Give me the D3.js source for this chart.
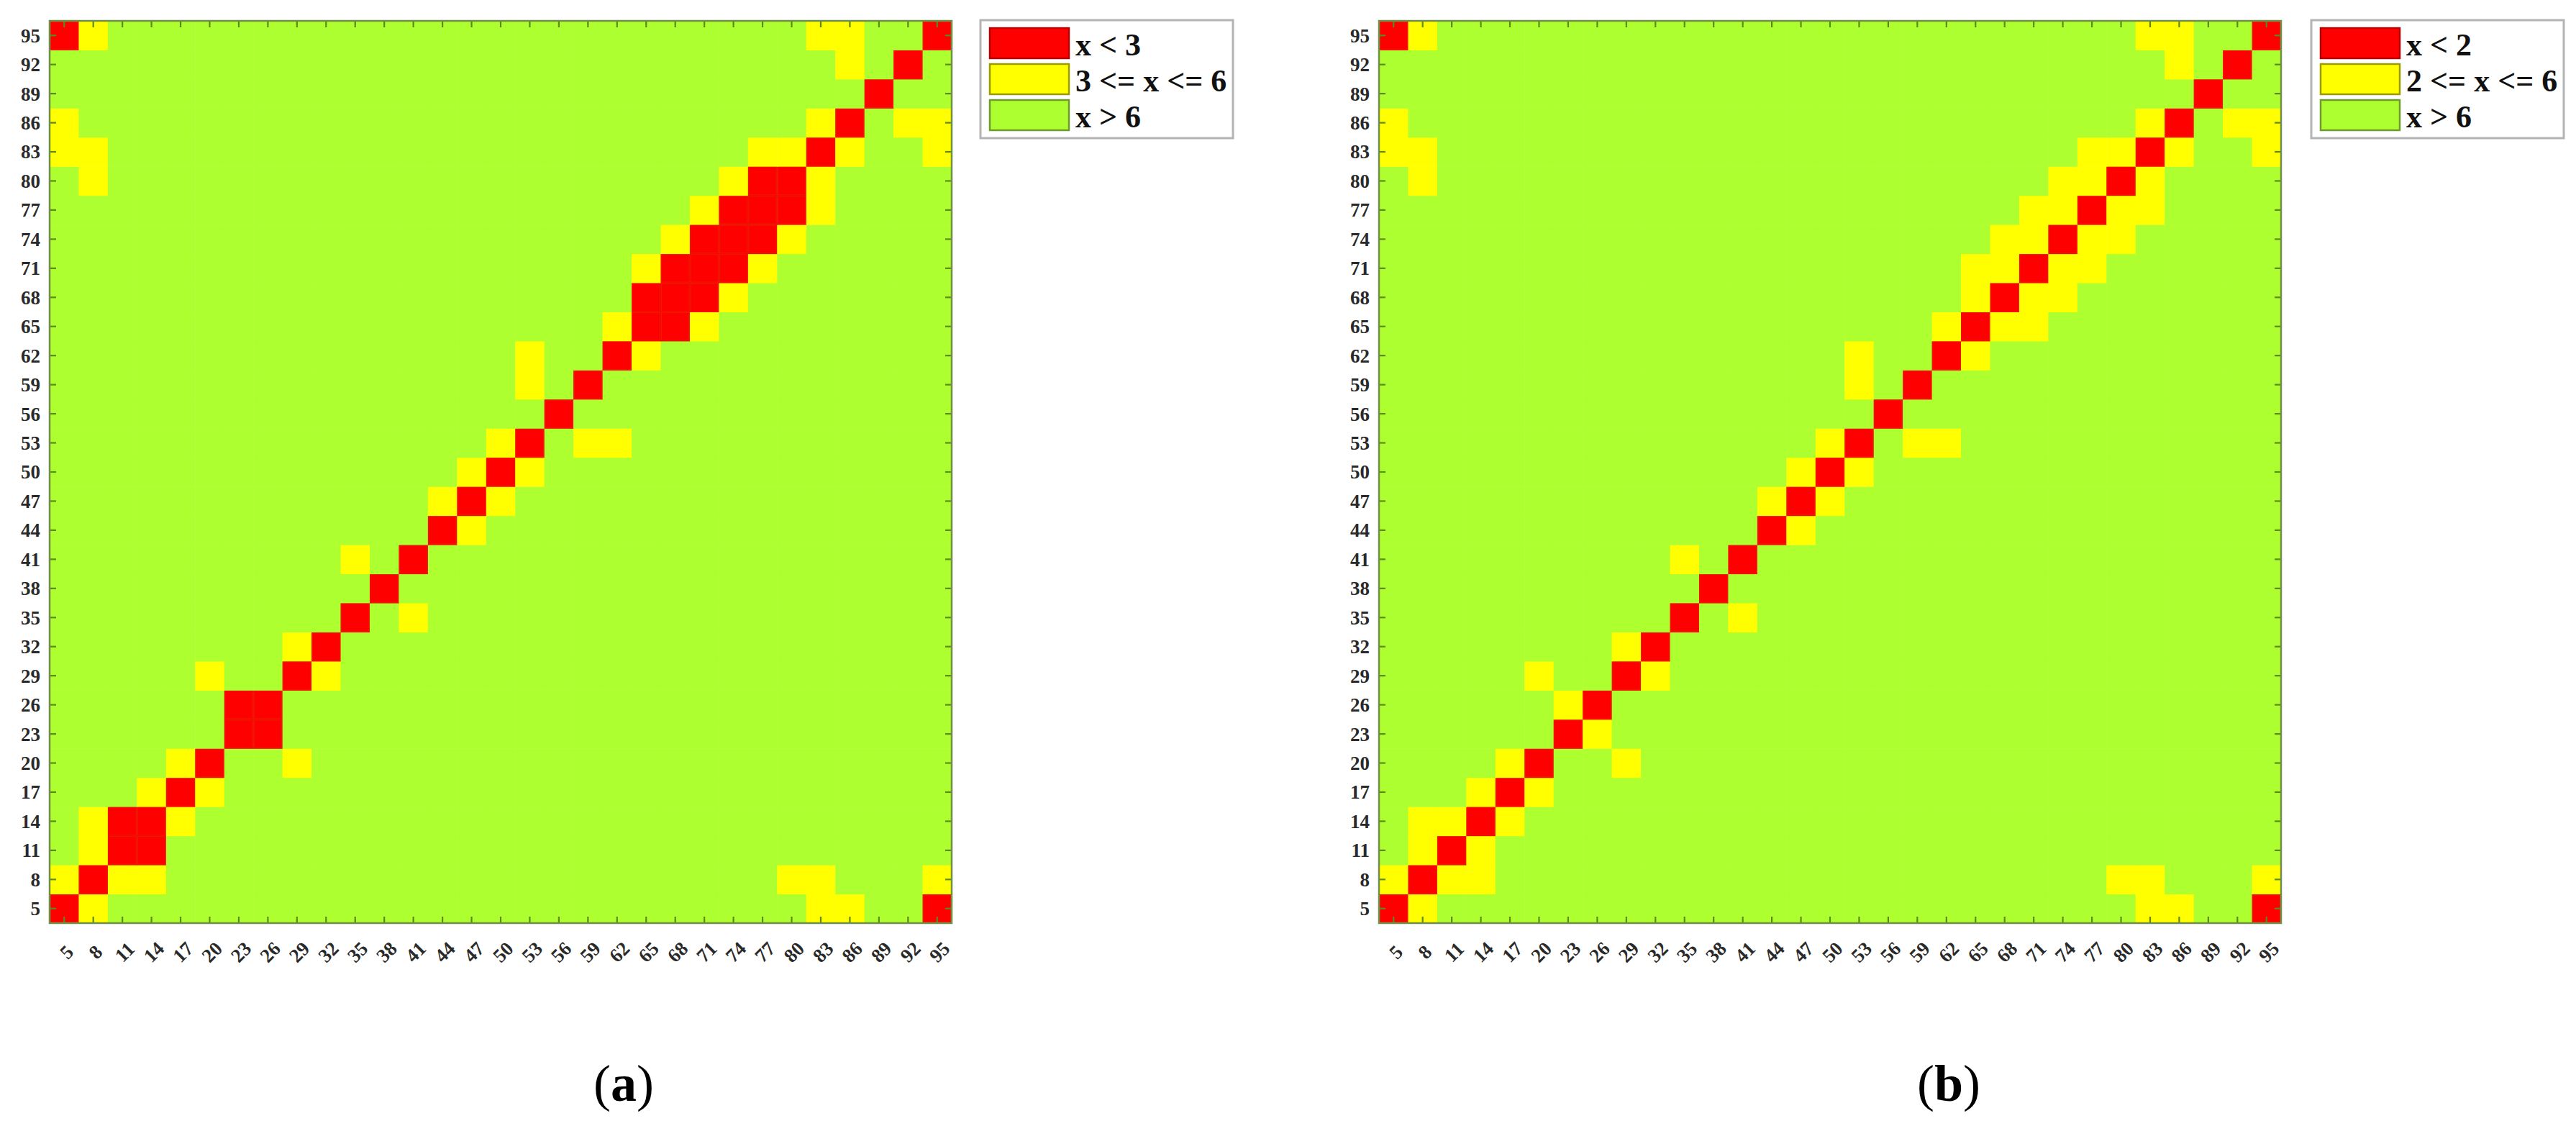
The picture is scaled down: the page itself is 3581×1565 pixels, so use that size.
<!DOCTYPE html>
<html><head><meta charset="utf-8">
<script src="https://cdn.jsdelivr.net/npm/d3@7"></script>
<style>body{margin:0;background:#fff} svg{display:block}</style>
</head><body>
<svg id="chart" width="3581" height="1565"></svg>
<script>
// ---- data ----
const categories = [5,8,11,14,17,20,23,26,29,32,35,38,41,44,47,50,53,56,59,62,65,68,71,74,77,80,83,86,89,92,95];
const tickLabels = ["5","8","11","14","17","20","23","26","29","32","35","38","41","44","47","50","53","56","59","62","65","68","71","74","77","80","83","86","89","92","95"];
const classLabelsA = ["x < 3", "3 <= x <= 6", "x > 6"];
const classLabelsB = ["x < 2", "2 <= x <= 6", "x > 6"];
const classColors = ["#ff0000", "#ffff00", "#adff2f"];
const classStrokes = ["#b80000", "#9c9c00", "#6f9a2c"];
const captionLetters = ["a", "b"];

// rows: [y value, x values in class "red" (lowest band)]
const redA = [[5,[5,95]],[8,[8]],[11,[11,14]],[14,[11,14]],[17,[17]],[20,[20]],[23,[23,26]],[26,[23,26]],
  [29,[29]],[32,[32]],[35,[35]],[38,[38]],[41,[41]],[44,[44]],[47,[47]],[50,[50]],[53,[53]],[56,[56]],
  [59,[59]],[62,[62]],[65,[65,68]],[68,[65,68,71]],[71,[68,71,74]],[74,[71,74,77]],[77,[74,77,80]],
  [80,[77,80]],[83,[83]],[86,[86]],[89,[89]],[92,[92]],[95,[5,95]]];
// rows: [y value, x values in class "yellow" (middle band)]
const yellowA = [[5,[8,83,86]],[8,[5,11,14,80,83,95]],[11,[8]],[14,[8,17]],[17,[14,20]],[20,[17,29]],
  [29,[20,32]],[32,[29]],[35,[41]],[41,[35]],[44,[47]],[47,[44,50]],[50,[47,53]],[53,[50,59,62]],
  [59,[53]],[62,[53,65]],[65,[62,71]],[68,[74]],[71,[65,77]],[74,[68,80]],[77,[71,83]],[80,[8,74,83]],
  [83,[5,8,77,80,86,95]],[86,[5,83,92,95]],[92,[86]],[95,[8,83,86]]];

const redB = [[5,[5,95]],[8,[8]],[11,[11]],[14,[14]],[17,[17]],[20,[20]],[23,[23]],[26,[26]],
  [29,[29]],[32,[32]],[35,[35]],[38,[38]],[41,[41]],[44,[44]],[47,[47]],[50,[50]],[53,[53]],[56,[56]],
  [59,[59]],[62,[62]],[65,[65]],[68,[68]],[71,[71]],[74,[74]],[77,[77]],[80,[80]],[83,[83]],[86,[86]],
  [89,[89]],[92,[92]],[95,[5,95]]];
const yellowB = [[5,[8,83,86]],[8,[5,11,14,80,83,95]],[11,[8,14]],[14,[8,11,17]],[17,[14,20]],[20,[17,29]],
  [23,[26]],[26,[23]],[29,[20,32]],[32,[29]],[35,[41]],[41,[35]],[44,[47]],[47,[44,50]],[50,[47,53]],
  [53,[50,59,62]],[59,[53]],[62,[53,65]],[65,[62,68,71]],[68,[65,71,74]],[71,[65,68,74,77]],
  [74,[68,71,77,80]],[77,[71,74,80,83]],[80,[8,74,77,83]],[83,[5,8,77,80,86,95]],[86,[5,83,92,95]],
  [92,[86]],[95,[8,83,86]]];

// ---- layout ----
const svg = d3.select("#chart");
svg.append("rect").attr("width",3581).attr("height",1565).attr("fill","#fff");
const gridTop = 29, gridSize = 1254;
const serif = "'Liberation Serif','Times New Roman',serif";
const panels = [
  {x0: 69,   legendX: 1363, captionX: 867,  red: redA, yellow: yellowA, labels: classLabelsA, letter: captionLetters[0]},
  {x0: 1917, legendX: 3213, captionX: 2709, red: redB, yellow: yellowB, labels: classLabelsB, letter: captionLetters[1]}
];

function buildCells(red, yellow) {
  const cls = new Map();
  yellow.forEach(([y, xs]) => xs.forEach(x => cls.set(x + "_" + y, 1)));
  red.forEach(([y, xs]) => xs.forEach(x => cls.set(x + "_" + y, 0)));
  const cells = [];
  categories.forEach(y => categories.forEach(x => {
    const k = x + "_" + y;
    cells.push({x, y, c: cls.has(k) ? cls.get(k) : 2});
  }));
  return cells;
}

panels.forEach(p => {
  const x = d3.scaleBand().domain(categories).range([p.x0, p.x0 + gridSize]).padding(0);
  const y = d3.scaleBand().domain(categories).range([gridTop + gridSize, gridTop]).padding(0);
  const g = svg.append("g");
  const cells = buildCells(p.red, p.yellow);
  g.selectAll("rect.cell").data(cells).join("rect")
    .attr("class","cell")
    .attr("x", d => x(d.x)).attr("y", d => y(d.y))
    .attr("width", x.bandwidth() + 0.5).attr("height", y.bandwidth() + 0.5)
    .attr("fill", d => classColors[d.c]);
  // subtle edge on red cells
  g.selectAll("rect.redEdge").data(cells.filter(d => d.c === 0)).join("rect")
    .attr("x", d => x(d.x) + 1).attr("y", d => y(d.y) + 1)
    .attr("width", x.bandwidth() - 2).attr("height", y.bandwidth() - 2)
    .attr("fill","none").attr("stroke","#e02800").attr("stroke-width",1.2).attr("stroke-opacity",0.6);

  const tickColor = "#5b8a1a";
  const fmt = (d) => tickLabels[categories.indexOf(d)];
  const left = g.append("g").attr("transform", `translate(${p.x0},0)`)
    .call(d3.axisLeft(y).tickSizeInner(-9).tickSizeOuter(0).tickPadding(13).tickFormat(fmt));
  const right = g.append("g").attr("transform", `translate(${p.x0 + gridSize},0)`)
    .call(d3.axisRight(y).tickSizeInner(-9).tickSizeOuter(0).tickFormat(""));
  const top = g.append("g").attr("transform", `translate(0,${gridTop})`)
    .call(d3.axisTop(x).tickSizeInner(-9).tickSizeOuter(0).tickFormat(""));
  const bottom = g.append("g").attr("transform", `translate(0,${gridTop + gridSize})`)
    .call(d3.axisBottom(x).tickSizeInner(-9).tickSizeOuter(0).tickFormat(fmt));
  [left, right, top, bottom].forEach(a => {
    a.select(".domain").remove();
    a.selectAll("line").attr("stroke", tickColor).attr("stroke-width", 2.2);
    a.attr("font-family", serif).attr("font-size", 27).attr("font-weight", "bold");
    a.selectAll("text").attr("fill", "#2a2a2a");
  });
  bottom.selectAll("text")
    .attr("x", 0).attr("y", 0).attr("dy", "0.35em")
    .attr("text-anchor", "middle")
    .attr("transform", "translate(3,40) rotate(-45)");
  left.selectAll("text").attr("dy", "0.35em");

  // box
  g.append("rect").attr("x", p.x0).attr("y", gridTop)
    .attr("width", gridSize).attr("height", gridSize)
    .attr("fill","none").attr("stroke","#728f45").attr("stroke-width",2.5);

  // legend
  const lg = svg.append("g").attr("transform", `translate(${p.legendX},28)`);
  lg.append("rect").attr("x",0).attr("y",0).attr("width",351).attr("height",164)
    .attr("fill","#fff").attr("stroke","#b4b4b4").attr("stroke-width",3);
  const items = lg.selectAll("g.item").data(p.labels).join("g").attr("class","item")
    .attr("transform", (d,i) => `translate(0,${i*50})`);
  items.append("rect").attr("x",13).attr("y",11).attr("width",110).attr("height",42)
    .attr("fill", (d,i) => classColors[i]).attr("stroke", (d,i) => classStrokes[i]).attr("stroke-width",2.5);
  items.append("text").attr("x",132).attr("y",49).text(d => d)
    .attr("font-family", serif).attr("font-size",44).attr("font-weight","bold").attr("fill","#111");

  // caption
  const cap = svg.append("text").attr("x", p.captionX).attr("y", 1530).attr("text-anchor","middle")
    .attr("font-family", serif).attr("font-size", 72).attr("fill","#000");
  cap.append("tspan").text("(");
  cap.append("tspan").attr("font-weight","bold").text(p.letter);
  cap.append("tspan").text(")");
});
</script>
</body></html>
